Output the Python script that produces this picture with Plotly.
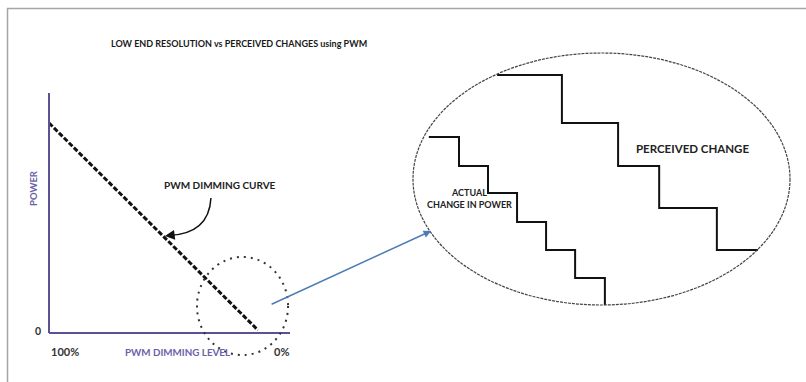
import plotly.graph_objects as go

W, H = 806, 382

# ---- data ----
# left chart: PWM dimming level (%) vs power (%)
curve_level = [100, 13.3]
curve_power = [87.5, 1.2]

# zoomed inset, units 0..100 across the ellipse's bounding box
actual_x = [4.2, 12.2, 19.9, 27.6, 35.3, 43.0, 50.9]
actual_y = [66.7, 55.2, 44.4, 32.9, 21.8, 10.7, 0]
perceived_x = [22.3, 39.5, 54.4, 65.3, 80.6, 91.5]
perceived_y = [91.3, 72.2, 55.2, 38.5, 21.8, 21.8]

FONT = "Lato"
AXIS_COL = "#5b5294"
LABEL_COL = "#6a62a8"
TXT = "#222"


def domain(px0, px1, v0, v1, lo, hi, total, flip=False):
    # map the axis range [lo, hi] onto paper given two pixel anchors
    k = (px1 - px0) / (v1 - v0)
    a = px0 + (lo - v0) * k
    b = px0 + (hi - v0) * k
    a, b = sorted((a, b))
    if flip:
        return [1 - b / total, 1 - a / total]
    return [a / total, b / total]


# left chart: level 100 at x=49px, 0 at x=290px; power 0 at y=333px, 100 at y=93px
lx_range = [104, -5]
ly_range = [-12, 104]
lx_dom = domain(49, 290, 100, 0, lx_range[0], lx_range[1], W)
ly_dom = domain(333, 93, 0, 100, ly_range[0], ly_range[1], H, flip=True)

# inset: 0..100 between x=413..790px and y=305..53px
ix_range = [-2, 102]
iy_range = [-2, 102]
ix_dom = domain(413, 790, 0, 100, ix_range[0], ix_range[1], W)
iy_dom = domain(305, 53, 0, 100, iy_range[0], iy_range[1], H, flip=True)

fig = go.Figure()

fig.add_trace(go.Scatter(
    x=curve_level, y=curve_power, mode="lines",
    line=dict(color="#111", width=3, dash="5px,2px"),
    xaxis="x", yaxis="y", hoverinfo="skip"))

fig.add_trace(go.Scatter(
    x=actual_x, y=actual_y, mode="lines", line_shape="hv",
    line=dict(color="#111", width=2),
    xaxis="x2", yaxis="y2", hoverinfo="skip"))

fig.add_trace(go.Scatter(
    x=perceived_x, y=perceived_y, mode="lines", line_shape="hv",
    line=dict(color="#111", width=2),
    xaxis="x2", yaxis="y2", hoverinfo="skip"))

hidden = dict(visible=False, showgrid=False, zeroline=False, fixedrange=True)

shapes = [
    # picture frame
    dict(type="line", xref="paper", yref="paper", x0=7 / W, x1=1,
         y0=1 - 8.5 / H, y1=1 - 8.5 / H, line=dict(color="#a5a5a5", width=1.5)),
    dict(type="line", xref="paper", yref="paper", x0=7.5 / W, x1=7.5 / W,
         y0=0, y1=1 - 8.5 / H, line=dict(color="#a5a5a5", width=1.5)),
    # axes of the left chart
    dict(type="line", xref="x", yref="y", x0=100, x1=100, y0=0, y1=100,
         line=dict(color=AXIS_COL, width=2)),
    dict(type="line", xref="x", yref="y", x0=100, x1=0, y0=0, y1=0,
         line=dict(color=AXIS_COL, width=2)),
    # dotted highlight circle at the low end
    dict(type="circle", xref="x", yref="y", x0=38.6, x1=0.8, y0=-9.2, y1=31.7,
         line=dict(color="#333", width=2, dash="2px,5px")),
    # curved pointer to the dimming curve
    dict(type="path", xref="x", yref="y",
         path="M 32.8,56.25 Q 33.6,41.25 50.5,40.6",
         line=dict(color="#111", width=1.5)),
    # zoom ellipse
    dict(type="circle", xref="x2", yref="y2", x0=0, x1=100, y0=0, y1=100,
         line=dict(color="#444", width=1.2, dash="3px,1px")),
]


def label(text, size, color=TXT, **kw):
    d = dict(text=text, showarrow=False, xanchor="center", yanchor="middle",
             font=dict(size=size, color=color, family=FONT, weight="bold"))
    d.update(kw)
    return d


annotations = [
    label("LOW END RESOLUTION vs PERCEIVED CHANGES using PWM", 9, "#1a1a1a",
          xref="paper", yref="paper", x=239 / W, y=1 - 43 / H),
    label("POWER", 9.5, LABEL_COL, xref="paper", yref="paper",
          x=33 / W, y=1 - 188 / H, textangle=-90),
    label("0", 10.5, "#333", xref="paper", yref="paper", x=38 / W, y=1 - 331 / H),
    label("100%", 11, "#333", xref="paper", yref="paper",
          x=49 / W, y=1 - 351 / H, xanchor="left"),
    label("0%", 11, "#333", xref="paper", yref="paper",
          x=291 / W, y=1 - 351 / H, xanchor="right"),
    label("PWM DIMMING LEVEL", 9.8, LABEL_COL, xref="paper", yref="paper",
          x=177 / W, y=1 - 352 / H),
    label("PWM DIMMING CURVE", 10, xref="paper", yref="paper",
          x=220 / W, y=1 - 185 / H),
    # arrowhead of the curved pointer
    dict(text="", xref="x", yref="y", x=51.9, y=40.4, ax=8, ay=-1,
         showarrow=True, arrowhead=2, arrowsize=1.3, arrowwidth=1.5, arrowcolor="#111"),
    # blue pointer into the zoom
    dict(text="", xref="x2", yref="y2", x=4.8, y=29.4, ax=-161, ay=74,
         showarrow=True, arrowhead=2, arrowsize=1, arrowwidth=1.5, arrowcolor="#4c7cb5"),
    label("PERCEIVED CHANGE", 11.5, xref="paper", yref="paper",
          x=692 / W, y=1 - 148 / H),
    label("ACTUAL<br>CHANGE IN POWER", 9, xref="paper", yref="paper",
          x=469 / W, y=1 - 198 / H, align="center"),
]

fig.update_layout(
    width=W, height=H,
    margin=dict(l=0, r=0, t=0, b=0),
    paper_bgcolor="white", plot_bgcolor="rgba(0,0,0,0)",
    showlegend=False,
    font=dict(family=FONT),
    xaxis=dict(domain=lx_dom, range=lx_range, anchor="y", **hidden),
    yaxis=dict(domain=ly_dom, range=ly_range, anchor="x", **hidden),
    xaxis2=dict(domain=ix_dom, range=ix_range, anchor="y2", **hidden),
    yaxis2=dict(domain=iy_dom, range=iy_range, anchor="x2", **hidden),
    shapes=shapes,
    annotations=annotations,
)

# drop the page's default body margin so the figure sits at the window's corner
fig.write_html("out.html", config=dict(displayModeBar=False, staticPlot=True),
               post_script="document.body.style.margin='0';document.body.style.overflow='hidden';")
